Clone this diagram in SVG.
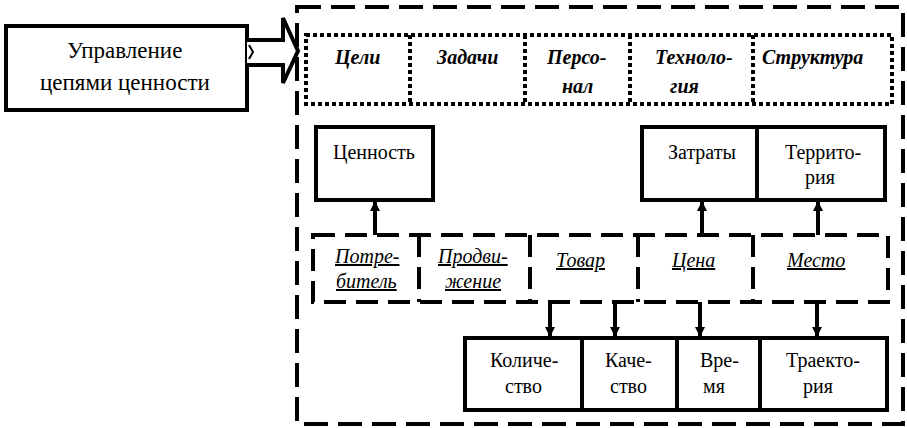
<svg xmlns="http://www.w3.org/2000/svg" width="907" height="428" viewBox="0 0 907 428">
<defs>
<marker id="ah" viewBox="0 0 10 10" refX="10" refY="5" markerWidth="10" markerHeight="10" markerUnits="userSpaceOnUse" orient="auto">
<path d="M0,0 L10,5 L0,10 z" fill="#000"/>
</marker>
</defs>
<rect width="907" height="428" fill="#fff"/>

<g id="outer" fill="none" stroke="#000" stroke-width="4" stroke-dasharray="24 10">
<rect x="297" y="7" width="606" height="417"/>
</g>

<g id="mgmt">
<rect x="6" y="26" width="241" height="84" fill="#fff" stroke="#000" stroke-width="4"/>
<text x="67" y="58" font-family="Liberation Serif" font-size="23">Управление</text>
<text x="40" y="90" font-family="Liberation Serif" font-size="23">цепями ценности</text>
</g>

<g id="top">
<g fill="none" stroke="#000" stroke-width="4" stroke-dasharray="4 3">
<rect x="306" y="35" width="586" height="69"/>
<line x1="410" y1="35" x2="410" y2="104"/>
<line x1="525" y1="35" x2="525" y2="104"/>
<line x1="630" y1="35" x2="630" y2="104"/>
<line x1="753" y1="35" x2="753" y2="104"/>
</g>
<text x="335" y="64" font-family="Liberation Serif" font-size="20" font-weight="bold" font-style="italic">Цели</text>
<text x="437" y="64" font-family="Liberation Serif" font-size="20" font-weight="bold" font-style="italic">Задачи</text>
<text x="547" y="64" font-family="Liberation Serif" font-size="20" font-weight="bold" font-style="italic">Персо-</text>
<text x="562" y="93" font-family="Liberation Serif" font-size="20" font-weight="bold" font-style="italic">нал</text>
<text x="655" y="64" font-family="Liberation Serif" font-size="20" font-weight="bold" font-style="italic">Техноло-</text>
<text x="670" y="93" font-family="Liberation Serif" font-size="20" font-weight="bold" font-style="italic">гия</text>
<text x="762" y="64" font-family="Liberation Serif" font-size="20" font-weight="bold" font-style="italic">Структура</text>
</g>

<g id="value">
<rect x="316" y="127" width="117" height="73" fill="#fff" stroke="#000" stroke-width="4"/>
<text x="333" y="159" font-family="Liberation Serif" font-size="20">Ценность</text>
</g>

<g id="costs">
<g fill="#fff" stroke="#000" stroke-width="4">
<rect x="642" y="127" width="243" height="73"/>
<line x1="757" y1="127" x2="757" y2="200"/>
</g>
<text x="668" y="159" font-family="Liberation Serif" font-size="20">Затраты</text>
<text x="785" y="159" font-family="Liberation Serif" font-size="20">Террито-</text>
<text x="805" y="184" font-family="Liberation Serif" font-size="20">рия</text>
</g>

<g id="fourp">
<g fill="none" stroke="#000" stroke-width="4" stroke-dasharray="22 10">
<rect x="313" y="235" width="575" height="67"/>
<line x1="419" y1="235" x2="419" y2="302"/>
<line x1="530" y1="235" x2="530" y2="302"/>
<line x1="638" y1="235" x2="638" y2="302"/>
<line x1="753" y1="235" x2="753" y2="302"/>
</g>
<text x="335" y="263" font-family="Liberation Serif" font-size="20" font-style="italic" text-decoration="underline">Потре-</text>
<text x="336" y="288" font-family="Liberation Serif" font-size="20" font-style="italic" text-decoration="underline">битель</text>
<text x="438" y="263" font-family="Liberation Serif" font-size="20" font-style="italic" text-decoration="underline">Продви-</text>
<text x="445" y="288" font-family="Liberation Serif" font-size="20" font-style="italic" text-decoration="underline">жение</text>
<text x="556" y="267" font-family="Liberation Serif" font-size="20" font-style="italic" text-decoration="underline">Товар</text>
<text x="672" y="267" font-family="Liberation Serif" font-size="20" font-style="italic" text-decoration="underline">Цена</text>
<text x="787" y="267" font-family="Liberation Serif" font-size="20" font-style="italic" text-decoration="underline">Место</text>
</g>

<g id="bottom">
<g fill="#fff" stroke="#000" stroke-width="4">
<rect x="465" y="338" width="422" height="72"/>
<line x1="582" y1="338" x2="582" y2="410"/>
<line x1="677" y1="338" x2="677" y2="410"/>
<line x1="760" y1="338" x2="760" y2="410"/>
</g>
<text x="490" y="367" font-family="Liberation Serif" font-size="20">Количе-</text>
<text x="505" y="393" font-family="Liberation Serif" font-size="20">ство</text>
<text x="605" y="367" font-family="Liberation Serif" font-size="20">Каче-</text>
<text x="610" y="393" font-family="Liberation Serif" font-size="20">ство</text>
<text x="700" y="367" font-family="Liberation Serif" font-size="20">Вре-</text>
<text x="703" y="393" font-family="Liberation Serif" font-size="20">мя</text>
<text x="786" y="367" font-family="Liberation Serif" font-size="20">Траекто-</text>
<text x="803" y="393" font-family="Liberation Serif" font-size="20">рия</text>
</g>

<g id="connectors" fill="none" stroke="#000" stroke-width="4">
<path d="M247,40 L283,40 L283,18 L298,51 L283,83 L283,65 L247,65" fill="#fff"/>
<path d="M249,45 L253,52 L249,59" stroke-width="2"/>
<line x1="375" y1="235" x2="375" y2="201" marker-end="url(#ah)"/>
<line x1="702" y1="235" x2="702" y2="201" marker-end="url(#ah)"/>
<line x1="818" y1="235" x2="818" y2="201" marker-end="url(#ah)"/>
<line x1="550" y1="302" x2="550" y2="337" marker-end="url(#ah)"/>
<line x1="615" y1="302" x2="615" y2="337" marker-end="url(#ah)"/>
<line x1="700" y1="302" x2="700" y2="337" marker-end="url(#ah)"/>
<line x1="817" y1="302" x2="817" y2="337" marker-end="url(#ah)"/>
</g>
</svg>
